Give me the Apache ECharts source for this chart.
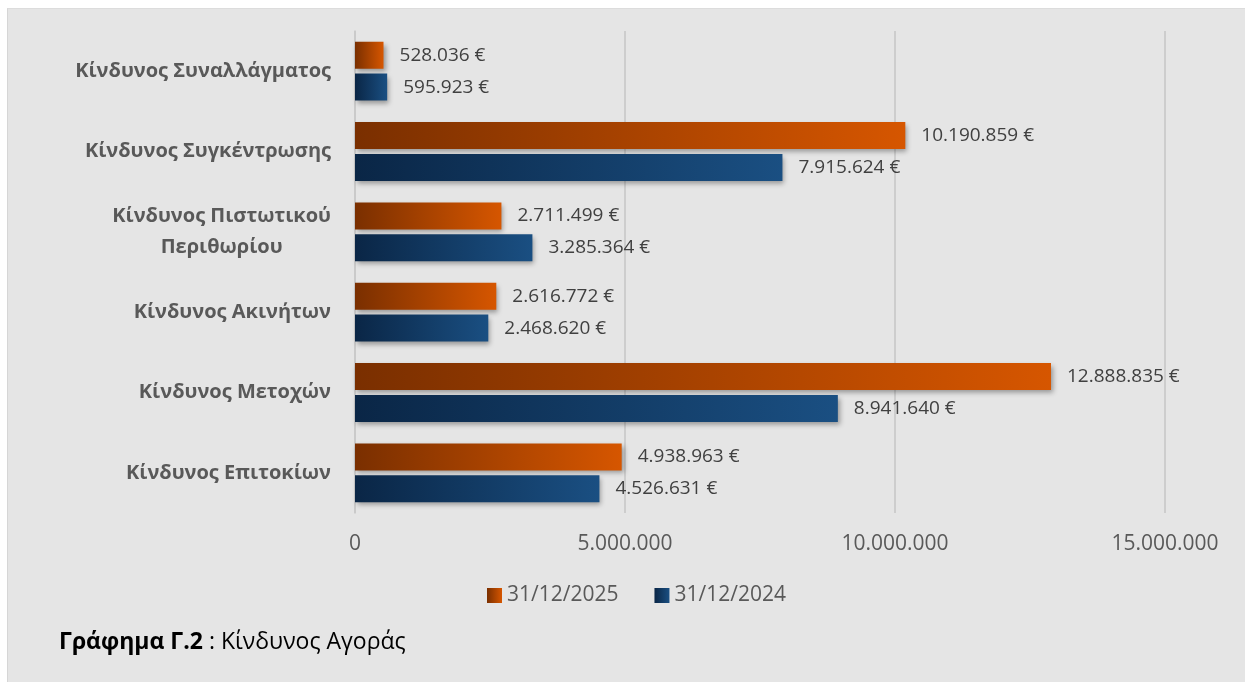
<!DOCTYPE html>
<html>
<head>
<meta charset="utf-8">
<script src="https://cdn.jsdelivr.net/npm/echarts@6/dist/echarts.min.js"></script>
<style>
  html, body { margin: 0; padding: 0; background: #ffffff; }
  #bg { position: absolute; left: 7px; top: 8px; width: 1238px; height: 674px; background: #e5e5e5; border-left: 1px solid #d6d6d6; border-top: 1px solid #dcdcdc; box-sizing: border-box; }
  #chart { position: absolute; left: 0; top: 0; width: 1245px; height: 682px; }
</style>
</head>
<body>
<div id="bg"></div>
<div id="chart"></div>
<script>
const categories = [
  'Κίνδυνος Συναλλάγματος',
  'Κίνδυνος Συγκέντρωσης',
  'Κίνδυνος Πιστωτικού Περιθωρίου',
  'Κίνδυνος Ακινήτων',
  'Κίνδυνος Μετοχών',
  'Κίνδυνος Επιτοκίων'
];
const seriesNames = ['31/12/2025', '31/12/2024'];
const values2025 = [528036, 10190859, 2711499, 2616772, 12888835, 4938963];
const values2024 = [595923, 7915624, 3285364, 2468620, 8941640, 4526631];
const xTicks = { min: 0, max: 15000000, interval: 5000000 };

function fmt(v) {
  return String(Math.round(v)).replace(/\B(?=(\d{3})+(?!\d))/g, '.');
}

const FONT = '"Open Sans", "Noto Sans", sans-serif';
const chart = echarts.init(document.getElementById('chart'), null, { renderer: 'canvas' });

const orangeGrad = new echarts.graphic.LinearGradient(0, 0, 1, 0, [
  { offset: 0, color: '#7a2f00' },
  { offset: 1, color: '#d65600' }
]);
const blueGrad = new echarts.graphic.LinearGradient(0, 0, 1, 0, [
  { offset: 0, color: '#0a2646' },
  { offset: 1, color: '#1a4f82' }
]);

function mkSeries(name, data, grad) {
  return {
    name: name,
    type: 'bar',
    data: data,
    barWidth: 27,
    barGap: '18%',
    itemStyle: {
      color: grad,
      shadowColor: 'rgba(0,0,0,0.35)',
      shadowBlur: 5,
      shadowOffsetX: 2,
      shadowOffsetY: 3
    },
    label: {
      show: true,
      position: 'right',
      distance: 16,
      fontFamily: FONT,
      fontSize: 19,
      color: '#404040',
      formatter: p => fmt(p.value) + ' €'
    }
  };
}

chart.setOption({
  backgroundColor: 'transparent',
  textStyle: { fontFamily: FONT },
  animation: false,
  grid: { left: 355, right: 80, top: 31, bottom: 169, containLabel: false },
  legend: {
    data: seriesNames,
    left: 482,
    top: 580,
    itemWidth: 15,
    itemHeight: 15,
    itemGap: 36,
    icon: 'rect',
    textStyle: { fontFamily: FONT, fontSize: 21, color: '#595959' }
  },
  title: {
    text: '{b|Γράφημα Γ.2} : Κίνδυνος Αγοράς',
    left: 54,
    top: 626,
    textStyle: {
      fontFamily: FONT,
      fontSize: 23,
      fontWeight: 'normal',
      color: '#000000',
      rich: {
        b: { fontFamily: FONT, fontSize: 23, fontWeight: 'bold', color: '#000000' }
      }
    }
  },
  xAxis: {
    type: 'value',
    min: xTicks.min,
    max: xTicks.max,
    interval: xTicks.interval,
    axisLine: { show: false },
    axisTick: { show: false },
    splitLine: { show: true, lineStyle: { color: '#c4c4c4', width: 1.5 } },
    axisLabel: {
      margin: 21,
      fontFamily: FONT,
      fontSize: 21,
      color: '#595959',
      formatter: v => fmt(v)
    }
  },
  yAxis: {
    type: 'category',
    data: categories,
    inverse: true,
    axisLine: { show: true, lineStyle: { color: '#c8c8c8', width: 1.5 } },
    axisTick: { show: false },
    axisLabel: {
      margin: 24,
      fontFamily: FONT,
      fontSize: 20,
      fontWeight: 'bold',
      color: '#595959',
      lineHeight: 31,
      formatter: function (v) {
        if (v === 'Κίνδυνος Πιστωτικού Περιθωρίου') {
          return '{c|Κίνδυνος Πιστωτικού}\n{c|Περιθωρίου}';
        }
        return v;
      },
      rich: {
        c: { align: 'center', fontFamily: FONT, fontSize: 20, fontWeight: 'bold', color: '#595959', lineHeight: 31 }
      }
    }
  },
  series: [
    mkSeries(seriesNames[0], values2025, orangeGrad),
    mkSeries(seriesNames[1], values2024, blueGrad)
  ]
});
</script>
</body>
</html>
